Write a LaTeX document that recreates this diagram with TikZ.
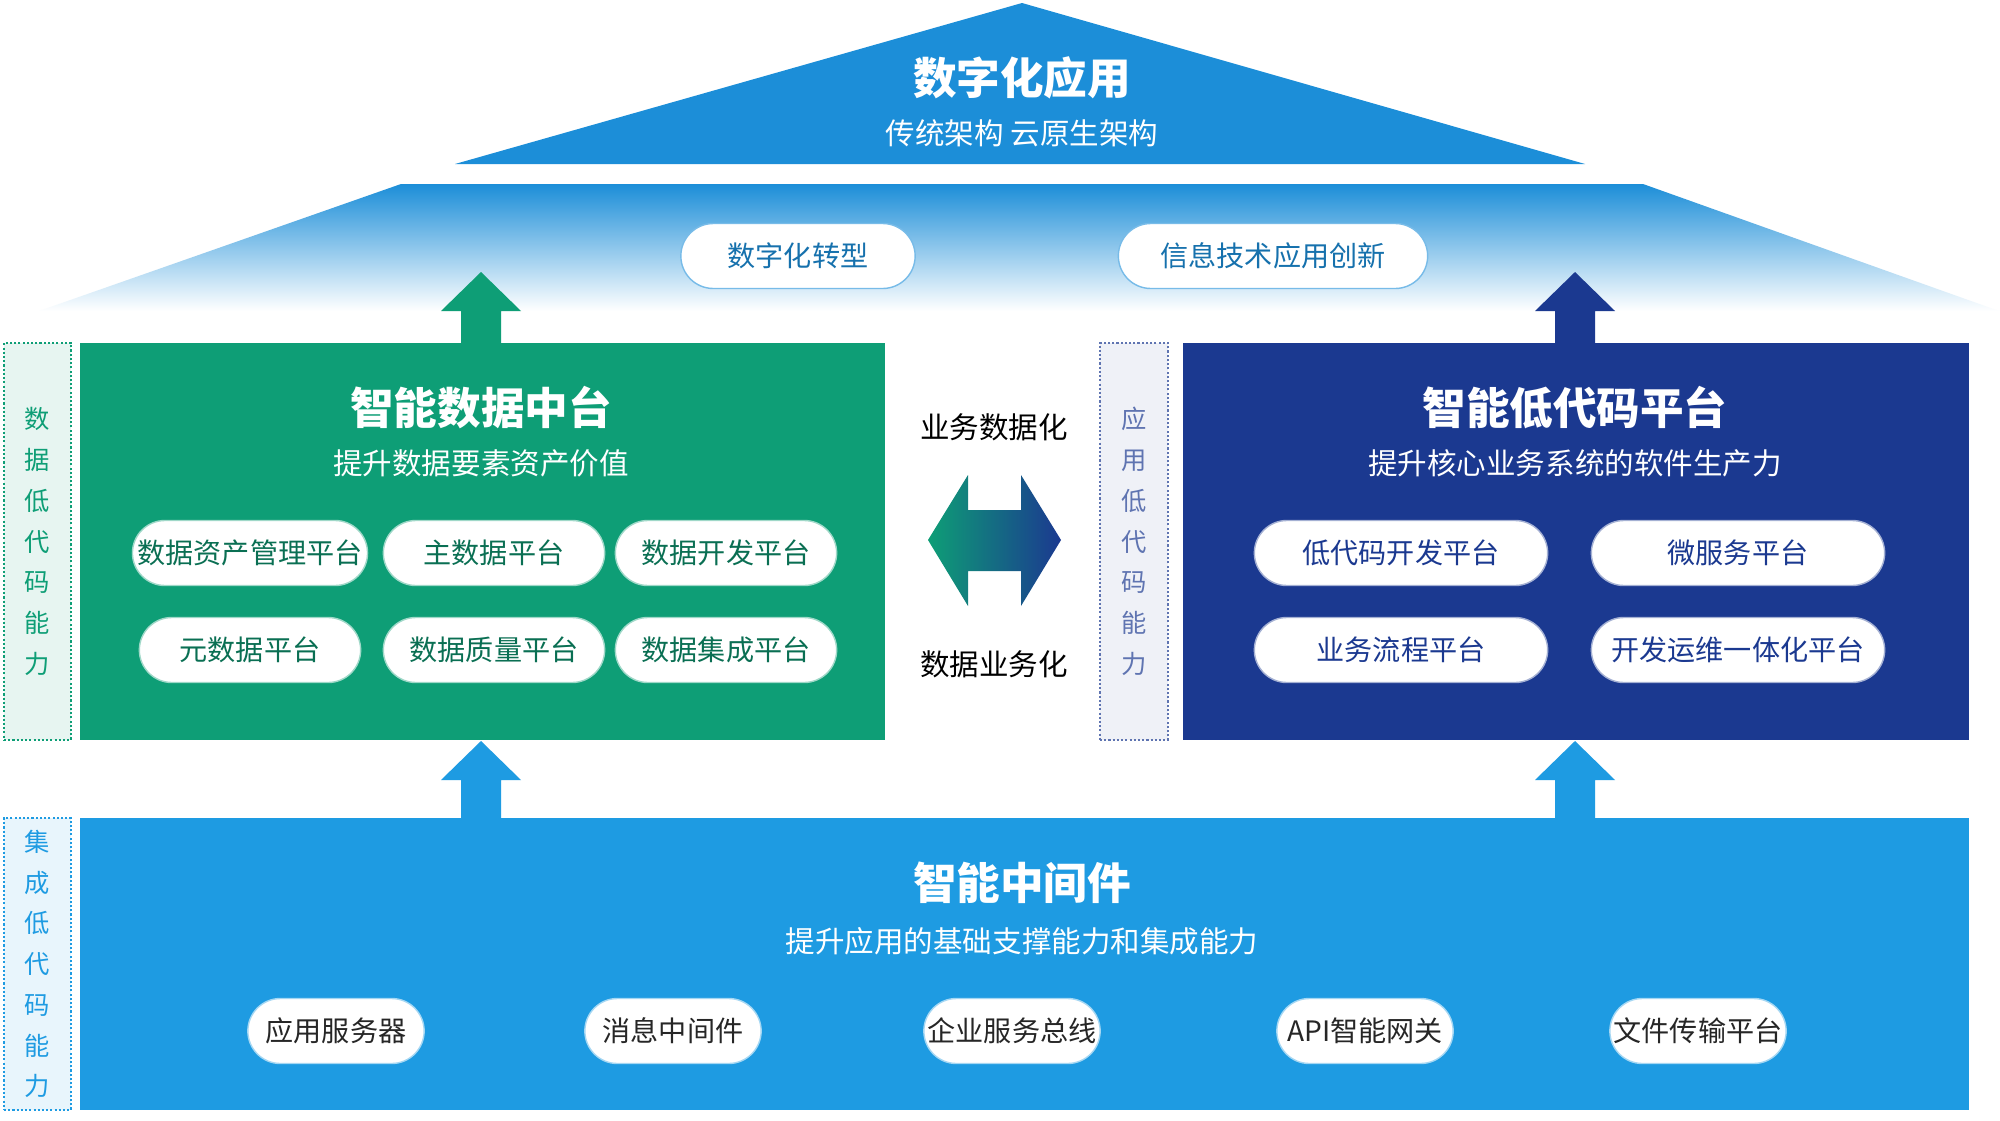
\documentclass[tikz,border=0pt]{standalone}
\usepackage{fontspec}
\setmainfont{Noto Sans CJK SC}
\usetikzlibrary{shapes.misc}
\definecolor{roof}{HTML}{1C8ED8}
\definecolor{gr}{HTML}{0E9E76}
\definecolor{db}{HTML}{1B3990}
\definecolor{lb}{HTML}{1E9BE2}
\colorlet{dbs}{db!70}
\begin{document}
\begin{tikzpicture}[x=0.05cm,y=-0.05cm,
 pill/.style={rounded rectangle,fill=white,draw=#1,line width=2pt,minimum height=65*0.05cm,font=\fontsize{40}{44}\selectfont,text=black!85},
 title/.style={font=\fontsize{62}{66}\selectfont\bfseries,text=white},
 sub/.style={font=\fontsize{42}{46}\selectfont,text=white},
 side/.style={draw=#1,dashed,line width=1.5pt,fill=#1!10,align=center,font=\fontsize{36}{58}\selectfont,text=#1},
 uparr/.style={fill=#1}]
\useasboundingbox (0,0) rectangle (2000,1120);
\fill[white] (0,0) rectangle (2000,1120);
% roof
\fill[roof] (1022,3) -- (1585,164) -- (455,164) -- cycle;
\node[title] (t0) at (1022,78) {数字化应用};
\node[sub] (s0) at (1022,133) {传统架构 云原生架构};
\shade[top color=roof,bottom color=white] (401,184) -- (1643,184) -- (1999,311) -- (39,311) -- cycle;
\node[pill=roof!60,minimum width=239*0.05cm,text=roof!80!black] (p1) at (798,256) {数字化转型};
\node[pill=roof!60,minimum width=314*0.05cm,text=roof!80!black] (p2) at (1273,256) {信息技术应用创新};
% green
\fill[gr] (80,343) rectangle (885,740);
\node[title] (t1) at (481,408) {智能数据中台};
\node[sub] (s1) at (481,463) {提升数据要素资产价值};
\foreach \n/\x/\y/\t in {a/250/553/数据资产管理平台,b/494/553/主数据平台,c/726/553/数据开发平台,d/250/650/元数据平台,e/494/650/数据质量平台,f/726/650/数据集成平台}
 \node[pill=gr!40,minimum width=226*0.05cm,text=gr!70!black] (g\n) at (\x,\y) {\t};
\fill[gr] (461,343) -- (461,311) -- (441,311) -- (481,272) -- (521,311) -- (501,311) -- (501,343) -- cycle;
\node[side=gr,minimum width=67*0.05cm,minimum height=397*0.05cm] (sd1) at (37.5,541.5) {数\\据\\低\\代\\码\\能\\力};
% middle
\node[font=\fontsize{42}{46}\selectfont] (m1) at (994,427) {业务数据化};
\node[font=\fontsize{42}{46}\selectfont] (m2) at (994,664) {数据业务化};
\shade[left color=gr,right color=db] (928,540) -- (968,475) -- (968,510) -- (1021,510) -- (1021,475) -- (1061,540) -- (1021,606) -- (1021,571) -- (968,571) -- (968,606) -- cycle;
\node[side=dbs,minimum width=68*0.05cm,minimum height=397*0.05cm] (sd2) at (1134,541.5) {应\\用\\低\\代\\码\\能\\力};
% dark blue
\fill[db] (1183,343) rectangle (1969,740);
\node[title] (t2) at (1575,408) {智能低代码平台};
\node[sub] (s2) at (1575,463) {提升核心业务系统的软件生产力};
\foreach \n/\x/\y/\t in {a/1401/553/低代码开发平台,b/1738/553/微服务平台,c/1401/650/业务流程平台,d/1738/650/开发运维一体化平台}
 \node[pill=db!40,minimum width=298*0.05cm,text=db] (d\n) at (\x,\y) {\t};
\fill[db] (1555,343) -- (1555,311) -- (1535,311) -- (1575,272) -- (1615,311) -- (1595,311) -- (1595,343) -- cycle;
% bottom
\fill[lb] (80,818) rectangle (1969,1110);
\fill[lb] (461,818) -- (461,780) -- (441,780) -- (481,741) -- (521,780) -- (501,780) -- (501,818) -- cycle;
\fill[lb] (1555,818) -- (1555,780) -- (1535,780) -- (1575,741) -- (1615,780) -- (1595,780) -- (1595,818) -- cycle;
\node[title] (t3) at (1022,883) {智能中间件};
\node[sub] (s3) at (1022,941) {提升应用的基础支撑能力和集成能力};
\foreach \n/\x/\t in {a/336/应用服务器,b/673/消息中间件,c/1012/企业服务总线,d/1365/API智能网关,e/1698/文件传输平台}
 \node[pill=lb!40,minimum width=181*0.05cm] (b\n) at (\x,1031) {\t};
\node[side=lb,minimum width=67*0.05cm,minimum height=292*0.05cm] (sd3) at (37.5,964) {集\\成\\低\\代\\码\\能\\力};
\end{tikzpicture}
\end{document}
